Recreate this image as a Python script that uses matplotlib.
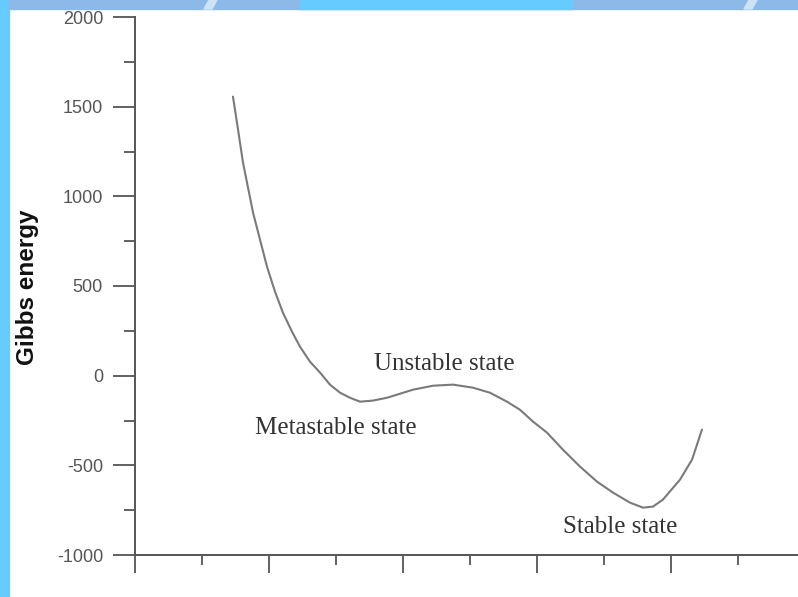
import matplotlib
matplotlib.use("Agg")
import matplotlib.pyplot as plt
from matplotlib.patches import Rectangle, Polygon
from matplotlib.ticker import MultipleLocator, NullFormatter

plt.rcParams["axes.unicode_minus"] = False

# curve values (x in tick units, y in Gibbs energy)
x = [0.731, 0.769, 0.806, 0.881, 0.933, 0.985, 1.045, 1.104, 1.172, 1.231,
     1.306, 1.381, 1.455, 1.530, 1.604, 1.679, 1.776, 1.881, 1.955, 2.075,
     2.224, 2.373, 2.522, 2.649, 2.776, 2.873, 2.970, 3.075, 3.194, 3.321,
     3.448, 3.567, 3.694, 3.791, 3.866, 3.940, 4.067, 4.157, 4.231]
g = [1556, 1372, 1188, 909, 758, 608, 468, 351, 245, 162,
     78, 17, -50, -95, -123, -145, -139, -123, -106, -78,
     -56, -50, -67, -95, -145, -190, -256, -318, -413, -507,
     -591, -652, -708, -736, -730, -691, -580, -468, -301]

labels = ["Unstable state", "Metastable state", "Stable state"]
label_x = [2.31, 1.50, 3.62]
label_y = [67, -290, -842]

fig = plt.figure(figsize=(7.98, 5.97), dpi=100)

# slide frame around the figure
blue = "#66ccff"
muted = "#8db9e8"
fig.patches.append(Rectangle((0, 0), 9/798, 1, transform=fig.transFigure, color=blue, zorder=0))
fig.patches.append(Rectangle((9/798, 1-9/597), 1, 9/597, transform=fig.transFigure, color=muted, zorder=0))
fig.patches.append(Rectangle((300/798, 1-9/597), 272/798, 9/597, transform=fig.transFigure, color=blue, zorder=0))
for x0 in (204, 744):
    fig.patches.append(Polygon([(x0/798, 1-9/597), ((x0+8)/798, 1-9/597), ((x0+13)/798, 1), ((x0+5)/798, 1)],
                               closed=True, transform=fig.transFigure, color="#cfe3f7", zorder=0))

ax = fig.add_axes([135/798, 1-555/597, 1-135/798, (555-17)/597])
ax.patch.set_alpha(0)
ax.plot(x, g, color="#7a7a7a", lw=1.5, solid_joinstyle="round", solid_capstyle="round")

for t, tx, ty in zip(labels, label_x, label_y):
    ax.text(tx, ty, t, ha="center", va="center", fontsize=18,
            family="Liberation Serif", color="#333333")

ax.set_xlim(0, 663/134)
ax.set_ylim(-1000, 2000)
ax.spines["top"].set_visible(False)
ax.spines["right"].set_visible(False)
for s in ("left", "bottom"):
    ax.spines[s].set_color("#555555")
    ax.spines[s].set_linewidth(1.4)

ax.yaxis.set_major_locator(MultipleLocator(500))
ax.yaxis.set_minor_locator(MultipleLocator(250))
ax.xaxis.set_major_locator(MultipleLocator(1))
ax.xaxis.set_minor_locator(MultipleLocator(0.5))
ax.xaxis.set_major_formatter(NullFormatter())
ax.tick_params(axis="y", which="major", direction="out", length=16, width=1.3,
               color="#555555", labelsize=13, labelcolor="#555555", pad=7)
ax.tick_params(axis="y", which="minor", direction="out", length=8, width=1.3, color="#555555")
ax.tick_params(axis="x", which="major", direction="out", length=13, width=1.3, color="#555555")
ax.tick_params(axis="x", which="minor", direction="out", length=7, width=1.3, color="#555555")
for lab in ax.get_yticklabels():
    lab.set_family("Liberation Sans")

fig.text(28/798, 1-287/597, "Gibbs energy", rotation=90, ha="center", va="center",
         fontsize=17.5, fontweight="bold", family="Liberation Sans", color="#111111")

fig.savefig("out.png", dpi=100)
